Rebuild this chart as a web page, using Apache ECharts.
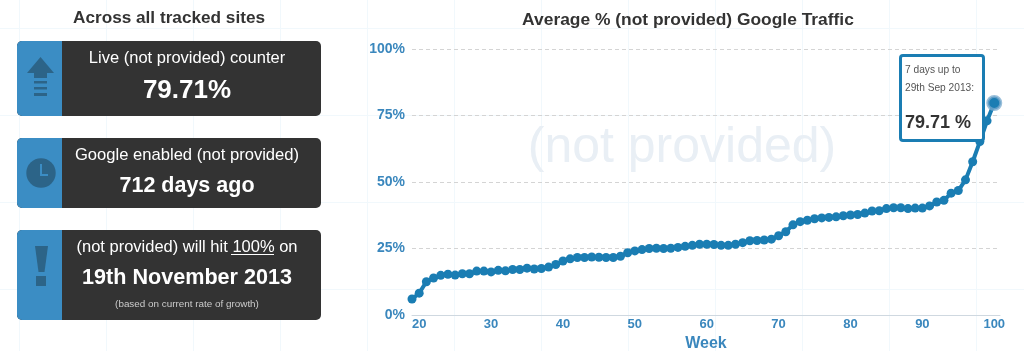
<!DOCTYPE html>
<html>
<head>
<meta charset="utf-8">
<style>
  html, body { margin: 0; padding: 0; background: #fff; }
  #chart {
    width: 1024px;
    height: 351px;
    background-color: #fff;
    background-image:
      linear-gradient(to right, #f1f8fc 1px, transparent 1px),
      linear-gradient(to bottom, #f1f8fc 1px, transparent 1px);
    background-size: 87px 87px;
    background-position: 19px 28px;
  }
</style>
<script src="https://cdn.jsdelivr.net/npm/echarts@6/dist/echarts.min.js"></script>
</head>
<body>
<div id="chart"></div>
<script>
const weeks = [
  19, 20, 21, 22, 23, 24, 25, 26, 27, 28, 29, 30, 31, 32, 33, 34, 35, 36, 37, 38,
  39, 40, 41, 42, 43, 44, 45, 46, 47, 48, 49, 50, 51, 52, 53, 54, 55, 56, 57, 58,
  59, 60, 61, 62, 63, 64, 65, 66, 67, 68, 69, 70, 71, 72, 73, 74, 75, 76, 77, 78,
  79, 80, 81, 82, 83, 84, 85, 86, 87, 88, 89, 90, 91, 92, 93, 94, 95, 96, 97, 98,
  99, 100
];
const shares = [
  6.0, 8.2, 12.5, 13.9, 14.9, 15.3, 15.0, 15.5, 15.5, 16.5, 16.5, 16.2, 16.8, 16.6, 17.1, 17.1, 17.6, 17.3, 17.5, 18.0,
  19.0, 20.3, 21.1, 21.6, 21.6, 21.8, 21.7, 21.6, 21.6, 22.1, 23.4, 24.1, 24.6, 25.0, 25.1, 25.0, 25.1, 25.4, 25.8, 26.2,
  26.6, 26.6, 26.5, 26.2, 26.2, 26.6, 27.2, 27.9, 28.0, 28.2, 28.5, 29.8, 31.3, 33.9, 35.1, 35.6, 36.2, 36.5, 36.7, 36.9,
  37.3, 37.6, 37.8, 38.3, 39.1, 39.2, 40.0, 40.3, 40.3, 40.0, 40.2, 40.2, 41.0, 42.5, 43.1, 45.8, 46.8, 50.8, 57.6, 65.2,
  73.0, 79.71
];
const weekTicks = [20, 30, 40, 50, 60, 70, 80, 90, 100];

const font = "Liberation Sans, Arial, sans-serif";
const blue = { line: "#1a7db3", label: "#3a87bd", panel: "#3b8dc4", icon: "#2c6488", axis: "#cfd8e0" };
const dark = "#333333";

function panelBox(y, height) {
  return [
    { type: "rect", shape: { x: 17, y, width: 304, height, r: 5 }, style: { fill: dark } },
    { type: "rect", shape: { x: 17, y, width: 45, height, r: [5, 0, 0, 5] }, style: { fill: blue.panel } }
  ];
}

function label(text, y, fontSize, bold, fill) {
  return {
    type: "text",
    x: 187,
    y,
    style: {
      text,
      x: 0,
      y: 0,
      align: "center",
      verticalAlign: "middle",
      font: `${bold ? "bold " : ""}${fontSize}px ${font}`,
      fill: fill || "#ffffff"
    }
  };
}

function iconRect(x, y, width, height) {
  return { type: "rect", shape: { x, y, width, height }, style: { fill: blue.icon } };
}

function iconPoly(points) {
  return { type: "polygon", shape: { points }, style: { fill: blue.icon } };
}

const panels = [
  { type: "text", x: 169, y: 18, style: { text: "Across all tracked sites", x: 0, y: 0, align: "center", verticalAlign: "middle", font: `bold 17.2px ${font}`, fill: dark } },

  ...panelBox(41, 75),
  iconPoly([[40.5, 57], [54, 73], [47, 73], [47, 78], [34, 78], [34, 73], [27, 73]]),
  iconRect(34, 81, 13, 2.5),
  iconRect(34, 87, 13, 2.5),
  iconRect(34, 93, 13, 3),
  label("Live (not provided) counter", 58, 16.5),
  label("79.71%", 91, 26, true),

  ...panelBox(138, 70),
  { type: "circle", shape: { cx: 41, cy: 173, r: 14.7 }, style: { fill: blue.icon } },
  { type: "rect", shape: { x: 40, y: 164, width: 2, height: 12 }, style: { fill: blue.panel } },
  { type: "rect", shape: { x: 40, y: 174, width: 8, height: 2 }, style: { fill: blue.panel } },
  label("Google enabled (not provided)", 155, 16.6),
  label("712 days ago", 186, 21.5, true),

  ...panelBox(230, 90),
  iconPoly([[35, 246], [48, 246], [44.5, 272], [38.5, 272]]),
  iconRect(36, 276, 10, 10),
  label("(not provided) will hit 100% on", 247, 16.5),
  { type: "line", shape: { x1: 231, y1: 254.5, x2: 274, y2: 254.5 }, style: { stroke: "#ffffff", lineWidth: 1 } },
  label("19th November 2013", 278, 21.6, true),
  label("(based on current rate of growth)", 304, 9.9, false, "#cccccc"),

  { type: "text", x: 682, y: 148, z: -1, style: { text: "(not provided)", x: 0, y: 0, align: "center", verticalAlign: "middle", font: `50px ${font}`, fill: "#e9eff5" } }
];

const chart = echarts.init(document.getElementById("chart"), null, { renderer: "canvas" });

chart.setOption({
  animation: false,
  backgroundColor: "transparent",
  textStyle: { fontFamily: font },
  title: {
    text: "Average % (not provided) Google Traffic",
    left: 683,
    top: 7,
    textAlign: "center",
    textStyle: { fontSize: 17.4, fontWeight: "bold", color: dark, fontFamily: font }
  },
  grid: { left: 412, right: 24, top: 49, bottom: 36, outerBoundsMode: "none" },
  xAxis: {
    type: "value",
    min: 19,
    max: 100.8,
    name: "Week",
    nameLocation: "middle",
    nameGap: 18,
    nameTextStyle: { color: blue.label, fontSize: 16, fontWeight: "bold" },
    splitLine: { show: false },
    axisTick: { show: false },
    axisLine: { onZero: false, lineStyle: { color: blue.axis, width: 1 } },
    axisLabel: {
      customValues: weekTicks,
      color: blue.label,
      fontSize: 13,
      fontWeight: "bold",
      margin: 3
    }
  },
  yAxis: {
    type: "value",
    min: 0,
    max: 100,
    interval: 25,
    axisLine: { show: false },
    axisTick: { show: false },
    axisLabel: {
      formatter: "{value}%",
      color: blue.label,
      fontSize: 14,
      fontWeight: "bold",
      margin: 7
    },
    splitLine: {
      showMinLine: false,
      lineStyle: { color: "#d4d4d4", type: [4, 3], width: 1 }
    }
  },
  tooltip: {
    trigger: "item",
    alwaysShowContent: true,
    showDelay: 0,
    transitionDuration: 0,
    position: [899, 54],
    padding: 0,
    borderWidth: 0,
    backgroundColor: "transparent",
    extraCssText: "box-shadow:none;",
    formatter: () => `
      <div style="box-sizing:border-box;width:86px;height:88px;background:#fff;border:3px solid ${blue.line};border-radius:4px;padding:4px 0 0 3px;font-family:${font};color:${dark};">
        <div style="font-size:10.2px;line-height:18px;color:#555;">7 days up to<br>29th Sep 2013:</div>
        <div style="font-size:18px;font-weight:bold;line-height:20px;margin-top:15px;">79.71 %</div>
      </div>`
  },
  graphic: { elements: panels },
  series: [{
    type: "line",
    clip: false,
    data: weeks.map((week, i) => {
      if (i === weeks.length - 1) {
        return {
          value: [week, shares[i]],
          symbolSize: 13,
          itemStyle: { color: blue.line, borderColor: "rgba(120,170,205,0.75)", borderWidth: 3 }
        };
      }
      return [week, shares[i]];
    }),
    symbol: "circle",
    symbolSize: 9,
    showSymbol: true,
    showAllSymbol: true,
    lineStyle: { width: 4, color: blue.line },
    itemStyle: { color: blue.line },
    emphasis: { disabled: true }
  }]
});

chart.dispatchAction({ type: "showTip", seriesIndex: 0, dataIndex: weeks.length - 1 });
</script>
</body>
</html>
